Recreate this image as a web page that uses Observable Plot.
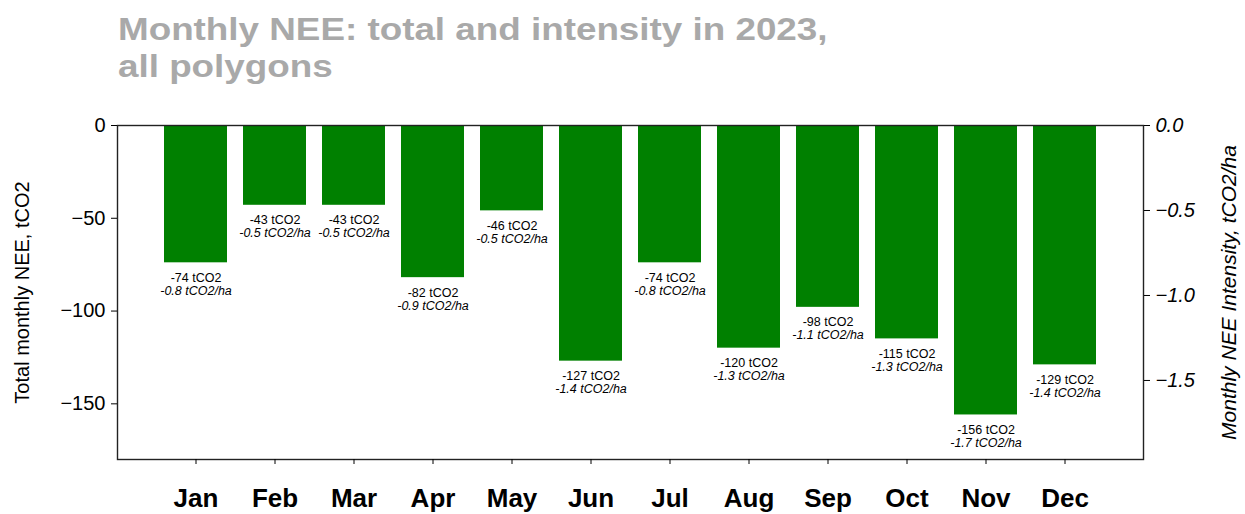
<!DOCTYPE html>
<html>
<head>
<meta charset="utf-8">
<script src="https://cdn.jsdelivr.net/npm/d3@7"></script>
<script src="https://cdn.jsdelivr.net/npm/@observablehq/plot@0.6"></script>
<style>
  html, body { margin: 0; padding: 0; background: #fff; }
  body { width: 1245px; height: 514px; overflow: hidden; font-family: "Liberation Sans", Arial, sans-serif; }
  #title { box-sizing: border-box; height: 85px; padding: 11px 0 0 118px; }
  #title div { font-size: 32px; line-height: 37px; font-weight: bold; color: #a9a9a9;
               transform: scaleX(1.15); transform-origin: 0 0; white-space: nowrap; }
</style>
</head>
<body>
<div id="title"><div>Monthly NEE: total and intensity in 2023,<br>all polygons</div></div>
<div id="chart"></div>
<script>
// ---- data ----
const months = ["Jan","Feb","Mar","Apr","May","Jun","Jul","Aug","Sep","Oct","Nov","Dec"];
const totals = [-74, -43, -43, -82, -46, -127, -74, -120, -98, -115, -156, -129];       // tCO2
const intensities = [-0.8, -0.5, -0.5, -0.9, -0.5, -1.4, -0.8, -1.3, -1.1, -1.3, -1.7, -1.4]; // tCO2/ha
const leftTicks = [0, -50, -100, -150];
const rightTicks = [0.0, -0.5, -1.0, -1.5];
const yDomain = [-180, 0];
const hectares = 91.6; // ratio between left (tCO2) and right (tCO2/ha) axes
const leftLabel = "Total monthly NEE, tCO2";
const rightLabel = "Monthly NEE Intensity, tCO2/ha";

const rows = months.map((m, i) => ({month: m, total: totals[i], intensity: intensities[i]}));
const fmtRight = d => { const v = d / hectares; return Math.abs(v) < 1e-9 ? "0.0" : "\u2212" + Math.abs(v).toFixed(1); };

const chart = Plot.plot({
  width: 1245,
  height: 429,
  marginTop: 40,
  marginBottom: 55,
  marginLeft: 117,
  marginRight: 102,
  style: {fontFamily: "'Liberation Sans', Arial, sans-serif", color: "#000", background: "#fff"},
  x: {domain: months, paddingInner: 0.2, paddingOuter: 0.59, align: 0.5},
  y: {domain: yDomain},
  marks: [
    Plot.barY(rows, {x: "month", y1: 0, y2: "total", fill: "#008000"}),
    Plot.text(rows, {x: "month", y: "total", text: d => `${d.total} tCO2`, dy: 15, fontSize: 12.5, fill: "#000"}),
    Plot.text(rows, {x: "month", y: "total", text: d => `${d.intensity.toFixed(1)} tCO2/ha`, dy: 28, fontSize: 12.5, fontStyle: "italic", fill: "#000"}),
    Plot.frame({stroke: "#222", strokeWidth: 1.4}),
    Plot.axisY(leftTicks, {anchor: "left", tickSize: 6, tickPadding: 6, fontSize: 20, label: null}),
    Plot.axisY(rightTicks.map(v => v * hectares), {anchor: "right", tickSize: 6, tickPadding: 6, fontSize: 20, fontStyle: "italic", tickFormat: fmtRight, label: null}),
    Plot.axisX({tickSize: 5, tickPadding: 24, fontSize: 26, fontWeight: "bold", label: null}),
    Plot.text([leftLabel], {frameAnchor: "left", textAnchor: "middle", dx: -95, rotate: -90, fontSize: 20, text: d => d, fill: "#000"}),
    Plot.text([rightLabel], {frameAnchor: "right", textAnchor: "middle", dx: 86, rotate: -90, fontSize: 21, fontStyle: "italic", text: d => d, fill: "#000"})
  ]
});
document.getElementById("chart").appendChild(chart);
</script>
</body>
</html>
